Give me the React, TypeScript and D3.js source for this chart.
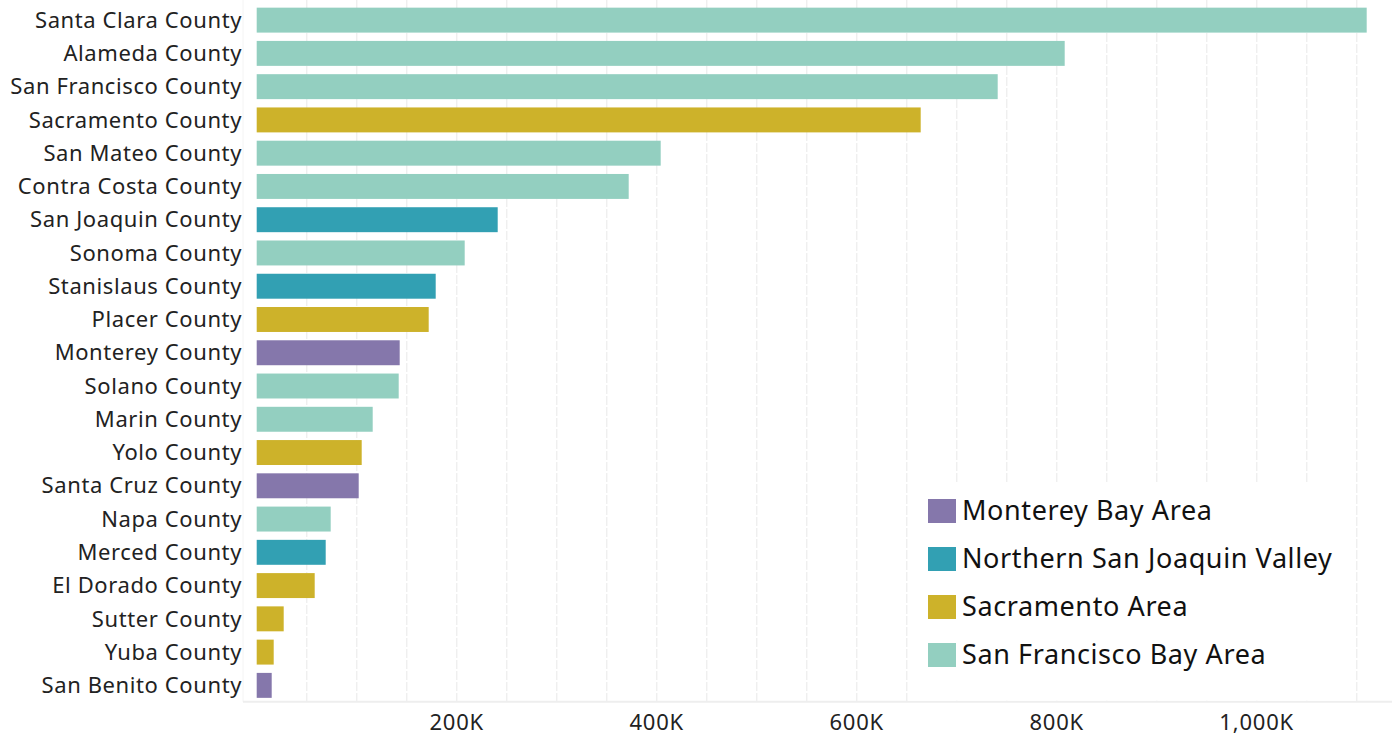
import React from "react";
import * as d3 from "d3";

const counties = [
  "Santa Clara County", "Alameda County", "San Francisco County", "Sacramento County",
  "San Mateo County", "Contra Costa County", "San Joaquin County", "Sonoma County",
  "Stanislaus County", "Placer County", "Monterey County", "Solano County",
  "Marin County", "Yolo County", "Santa Cruz County", "Napa County",
  "Merced County", "El Dorado County", "Sutter County", "Yuba County", "San Benito County",
];
const values = [1110, 808, 741, 664, 404, 372, 241, 208, 179, 172, 143, 142, 116, 105, 102, 74, 69, 58, 27, 17, 15];
const regions = [
  "San Francisco Bay Area", "San Francisco Bay Area", "San Francisco Bay Area", "Sacramento Area",
  "San Francisco Bay Area", "San Francisco Bay Area", "Northern San Joaquin Valley", "San Francisco Bay Area",
  "Northern San Joaquin Valley", "Sacramento Area", "Monterey Bay Area", "San Francisco Bay Area",
  "San Francisco Bay Area", "Sacramento Area", "Monterey Bay Area", "San Francisco Bay Area",
  "Northern San Joaquin Valley", "Sacramento Area", "Sacramento Area", "Sacramento Area", "Monterey Bay Area",
];
const legendRegions = ["Monterey Bay Area", "Northern San Joaquin Valley", "Sacramento Area", "San Francisco Bay Area"];
const regionColors = ["#8577ab", "#32a0b3", "#cdb22a", "#93cfc0"];
const tickValues = [200, 400, 600, 800, 1000];

const W = 1392;
const H = 735;
const FONT = "'Noto Sans', 'Open Sans', sans-serif";

export default function App() {
  const x = d3.scaleLinear().domain([0, 1100]).range([256.7, 1356.7]);
  const y = d3.scaleBand<string>().domain(counties).range([3.5, 702]).paddingInner(0.25).paddingOuter(0.125);
  const color = d3.scaleOrdinal<string, string>().domain(legendRegions).range(regionColors);
  const gridVals = d3.range(50, 1101, 50);
  const fmt = (v: number) => d3.format(",")(v) + "K";
  const axisY = 701.7;

  return (
    <svg width={W} height={H} style={{ position: "absolute", left: 0, top: 0, background: "#fff" }}>
      {gridVals.map((g) => (
        <line key={g} x1={x(g)} x2={x(g)} y1={0} y2={axisY} stroke="#efefef" strokeWidth={1.5} strokeDasharray="9,2" />
      ))}
      <line x1={243} x2={243} y1={0} y2={axisY} stroke="#f4f4f4" strokeWidth={1} />
      <line x1={243} x2={W} y1={axisY} y2={axisY} stroke="#eeeeee" strokeWidth={2} />
      {counties.map((c, i) => (
        <g key={c}>
          <rect x={x(0)} y={y(c)!} width={x(values[i]) - x(0)} height={y.bandwidth()} fill={color(regions[i])} />
          <text x={242} y={y(c)! + y.bandwidth() / 2} dy="0.35em" textAnchor="end" fontFamily={FONT} fontSize={22} letterSpacing={0.6} fill="#222">
            {c}
          </text>
        </g>
      ))}
      {tickValues.map((t) => (
        <text key={t} x={x(t)} y={722} dy="0.35em" textAnchor="middle" fontFamily={FONT} fontSize={22} letterSpacing={0.8} fill="#222">
          {fmt(t)}
        </text>
      ))}
      <rect x={908} y={484} width={448} height={axisY - 485} fill="#fff" />
      {legendRegions.map((r, i) => (
        <g key={r} transform={`translate(928, ${499 + i * 48})`}>
          <rect x={0} y={0} width={28} height={24} fill={regionColors[i]} />
          <text x={34} y={12} dy="0.35em" fontFamily={FONT} fontSize={27} letterSpacing={0.6} fill="#111">
            {r}
          </text>
        </g>
      ))}
    </svg>
  );
}
